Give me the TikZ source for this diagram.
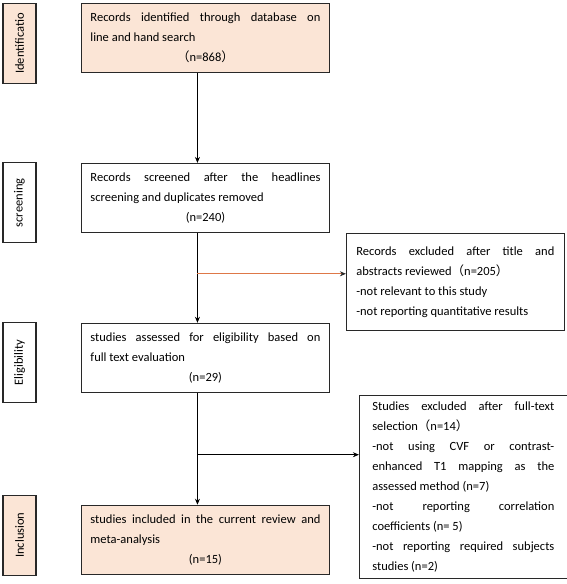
\documentclass[tikz,border=0pt]{standalone}
\usepackage{fontspec}
\setmainfont{Carlito}
\newfontfamily\cjk{Noto Sans CJK SC}
\usetikzlibrary{positioning,arrows.meta}
\definecolor{peach}{RGB}{251,229,214}
\definecolor{rust}{RGB}{222,120,72}
\definecolor{edge}{RGB}{40,40,40}
\hyphenpenalty=10000
\tikzset{
  box/.style={draw=edge, line width=0.9pt, align=justify, inner xsep=9pt, inner ysep=3pt,
    font=\fontsize{12.5}{20}\selectfont},
  mainbox/.style={box, text width=230pt, minimum height=69pt},
  phase/.style={draw=edge, line width=1.2pt, rotate=90, minimum width=80pt, minimum height=33pt, inner sep=0pt, font=\fontsize{12.5}{15}\selectfont},
  flow/.style={-{Stealth[length=6pt,width=5pt]}, line width=0.8pt},
}
\newcommand{\tally}[1]{\par\hbox to\linewidth{\hfil#1\hfil}}
\newcommand{\wpl}{{\cjk （}}
\newcommand{\wpr}{{\cjk ）}}
\begin{document}
\begin{tikzpicture}[x=1pt,y=1pt]
      \useasboundingbox (0,0) rectangle (567,-584);
      %% main column
      \node[mainbox,fill=peach,anchor=north west] (found) at (81,-3)
        {Records identified through database on\linebreak line and hand search\tally{\wpl n=868\wpr}};
      \node[mainbox,below=90pt of found] (screened)
        {Records screened after the headlines\linebreak screening and duplicates removed\tally{(n=240)}};
      \node[mainbox,below=90pt of screened] (checked)
        {studies assessed for eligibility based on\linebreak full text evaluation\tally{(n=29)}};
      \node[mainbox,fill=peach,below=112pt of checked] (included)
        {studies included in the current review and\linebreak meta-analysis\tally{(n=15)}};
      %% phase labels
      \node[phase,fill=peach] (idlab) at ([xshift=-61.5pt,yshift=-5.5pt]found.west) {Identificatio};
      \node[phase] (sclab) at ([xshift=-61.5pt,yshift=-5pt]screened.west) {screening};
      \node[phase] (ellab) at ([xshift=-61.5pt,yshift=-5pt]checked.west) {Eligibility};
      \node[phase,fill=peach] (inlab) at ([xshift=-61.5pt,yshift=4.5pt]included.west) {Inclusion};
      %% exclusion boxes
      \node[box,text width=198pt,inner xsep=10pt,minimum height=97pt,anchor=north west] (excl1)
        at ([xshift=16pt]screened.south east)
        {Records excluded after title and\linebreak abstracts reviewed\wpl n=205\wpr\par
         -not relevant to this study\par
         -not reporting quantitative results};
      \node[box,text width=182pt,inner xsep=10pt,minimum width=208pt,minimum height=183pt,anchor=north west] (excl2)
        at ([xshift=29pt,yshift=-2pt]checked.south east)
        {Studies excluded after full-text\linebreak selection\wpl n=14\wpr\par
         -not using CVF or contrast-\linebreak enhanced T1 mapping as the\linebreak assessed method (n=7)\par
         -not reporting correlation\linebreak coefficients (n= 5)\par
         -not reporting required subjects\linebreak studies (n=2)};
      %% arrows
      \coordinate (j1) at ([xshift=-8pt,yshift=-41pt]screened.south);
      \coordinate (j2) at ([xshift=-8pt,yshift=-62pt]checked.south);
      \draw[flow] ([xshift=-8pt]found.south) -- ([xshift=-8pt]screened.north);
      \draw[flow] ([xshift=-8pt]screened.south) -- ([xshift=-8pt]checked.north);
      \draw[flow] ([xshift=-8pt]checked.south) -- ([xshift=-8pt]included.north);
      \draw[rust,line width=1.1pt,-{Stealth[length=6pt,width=5pt,edge]}] (j1) -- (j1 -| excl1.west);
      \draw[flow] (j2) -- (j2 -| excl2.west);
\end{tikzpicture}
\end{document}
